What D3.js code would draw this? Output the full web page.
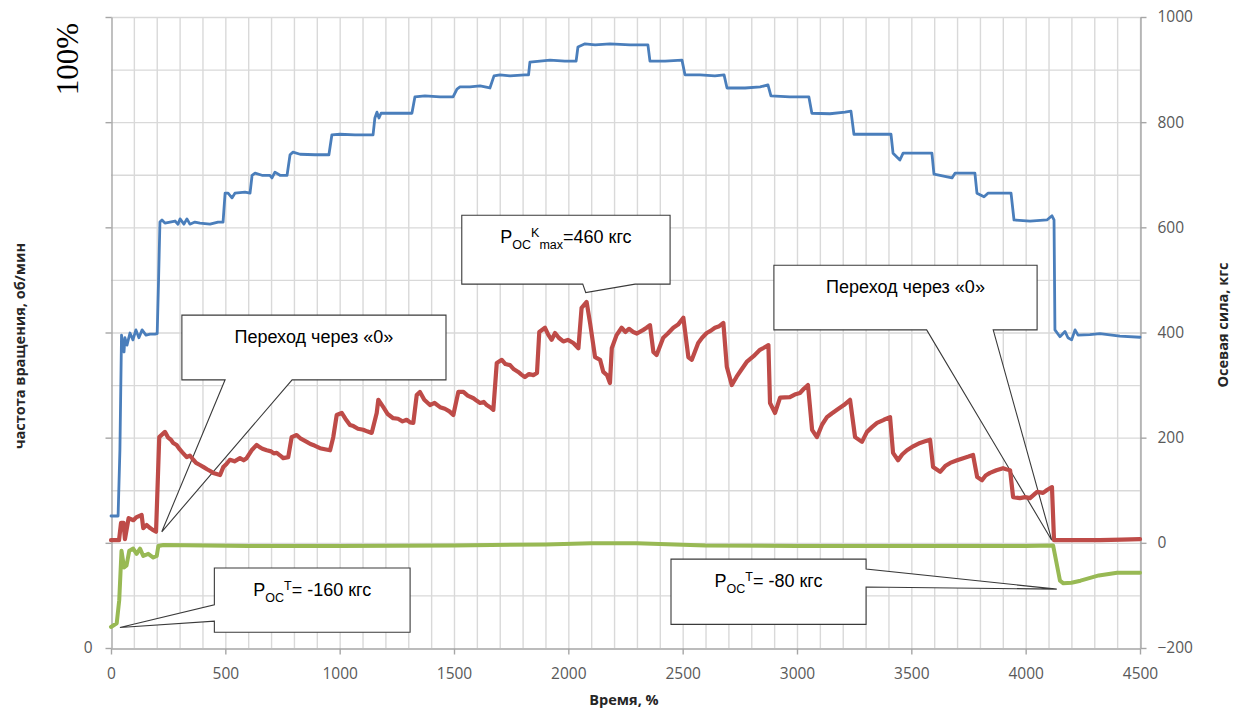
<!DOCTYPE html>
<html>
<head>
<meta charset="utf-8">
<script src="https://cdn.jsdelivr.net/npm/d3@7"></script>
<style>
   body { margin: 0; background: #fff; }
   svg { display: block; }
</style>
</head>
<body>
<div id="chart"></div>
<script>

// AXIS TICKS
var timeTicks = [0, 500, 1000, 1500, 2000, 2500, 3000, 3500, 4000, 4500];
var forceTicks = [-200, 0, 200, 400, 600, 800, 1000];
var speedTicks = [0, 200, 400, 600, 800, 1000, 1200];

// BLUE -- ЧАСТОТА ВРАЩЕНИЯ (LEFT AXIS)
var speedTime = [0, 31, 39, 46, 52, 57, 61, 70, 83, 96, 109, 122, 136, 153, 171, 192, 202, 208, 214, 223, 236, 258, 280, 293, 302, 319, 332, 345, 367, 389, 433, 468, 490, 499, 512, 529, 542, 586, 608, 617, 630, 660, 695, 704, 717, 739, 770, 783, 796, 827, 892, 953, 966, 1001, 1067, 1146, 1154, 1163, 1172, 1181, 1242, 1316, 1329, 1373, 1439, 1496, 1513, 1526, 1570, 1614, 1657, 1675, 1701, 1745, 1810, 1826, 1832, 1920, 1985, 2034, 2042, 2073, 2117, 2182, 2270, 2348, 2357, 2423, 2497, 2510, 2576, 2641, 2681, 2694, 2773, 2839, 2873, 2886, 2969, 3052, 3065, 3144, 3210, 3236, 3249, 3319, 3411, 3420, 3450, 3464, 3538, 3590, 3599, 3678, 3691, 3778, 3787, 3818, 3835, 3936, 3949, 4019, 4093, 4115, 4124, 4128, 4150, 4172, 4185, 4201, 4216, 4229, 4281, 4325, 4412, 4500];
var speedValue = [251, 251, 377, 595, 576, 563, 590, 576, 599, 586, 605, 590, 605, 595, 597, 597, 598, 700, 810, 814, 808, 810, 812, 806, 816, 806, 816, 806, 810, 808, 806, 810, 810, 865, 865, 856, 865, 867, 865, 899, 903, 899, 899, 894, 905, 899, 899, 938, 943, 939, 938, 938, 976, 977, 976, 976, 1008, 1019, 1008, 1017, 1017, 1017, 1048, 1050, 1048, 1048, 1063, 1067, 1067, 1069, 1065, 1088, 1090, 1088, 1090, 1090, 1114, 1118, 1116, 1116, 1143, 1149, 1147, 1149, 1147, 1147, 1116, 1116, 1118, 1090, 1090, 1088, 1090, 1065, 1065, 1067, 1071, 1050, 1048, 1048, 1017, 1016, 1019, 1021, 977, 977, 977, 941, 928, 941, 941, 941, 901, 894, 903, 903, 865, 858, 865, 865, 814, 812, 814, 822, 814, 605, 592, 602, 590, 586, 605, 595, 596, 598, 593, 591];

// RED -- ОСЕВАЯ СИЛА P_OC^K (RIGHT AXIS)
var forceKTime = [0, 35, 44, 55, 61, 77, 98, 112, 134, 141, 156, 171, 185, 197, 211, 236, 250, 262, 272, 287, 300, 312, 331, 345, 360, 372, 389, 405, 420, 432, 447, 462, 477, 491, 505, 520, 540, 564, 580, 593, 615, 637, 650, 662, 681, 700, 712, 725, 740, 753, 775, 790, 812, 830, 856, 872, 890, 914, 935, 958, 972, 987, 1009, 1025, 1045, 1060, 1080, 1103, 1120, 1140, 1162, 1169, 1191, 1210, 1234, 1255, 1275, 1293, 1308, 1322, 1337, 1351, 1370, 1395, 1415, 1439, 1460, 1480, 1497, 1519, 1541, 1560, 1585, 1600, 1614, 1630, 1643, 1658, 1672, 1687, 1709, 1725, 1745, 1762, 1781, 1795, 1810, 1828, 1847, 1863, 1873, 1898, 1912, 1927, 1942, 1958, 1978, 1998, 2022, 2044, 2058, 2080, 2095, 2117, 2139, 2153, 2169, 2182, 2190, 2211, 2233, 2250, 2265, 2284, 2300, 2328, 2342, 2357, 2372, 2386, 2415, 2435, 2459, 2480, 2503, 2525, 2540, 2568, 2585, 2605, 2622, 2641, 2660, 2678, 2693, 2715, 2736, 2758, 2780, 2810, 2838, 2855, 2875, 2882, 2904, 2926, 2969, 2990, 3013, 3030, 3048, 3066, 3087, 3110, 3131, 3152, 3175, 3205, 3232, 3254, 3284, 3306, 3328, 3350, 3380, 3407, 3420, 3442, 3460, 3481, 3510, 3538, 3560, 3582, 3595, 3626, 3648, 3670, 3700, 3727, 3750, 3770, 3788, 3809, 3825, 3844, 3872, 3901, 3915, 3932, 3945, 3975, 3998, 4019, 4050, 4076, 4095, 4115, 4124, 4250, 4325, 4420, 4500];
var forceKValue = [5, 5, 38, 38, 7, 47, 43, 49, 53, 28, 34, 28, 24, 21, 201, 211, 200, 196, 190, 186, 178, 172, 163, 166, 158, 152, 148, 144, 140, 137, 133, 131, 129, 144, 150, 158, 155, 161, 157, 161, 176, 186, 182, 179, 176, 174, 170, 171, 166, 161, 163, 201, 205, 198, 192, 188, 185, 180, 178, 176, 201, 243, 247, 236, 224, 222, 217, 215, 212, 209, 247, 272, 258, 245, 237, 236, 231, 234, 229, 228, 281, 287, 272, 262, 266, 258, 255, 250, 243, 287, 287, 280, 275, 270, 266, 268, 262, 258, 253, 342, 348, 340, 338, 330, 325, 320, 315, 321, 319, 323, 401, 409, 396, 386, 399, 390, 383, 386, 380, 370, 447, 458, 418, 353, 348, 325, 319, 304, 370, 395, 409, 401, 407, 401, 398, 405, 409, 414, 363, 357, 390, 398, 409, 415, 428, 353, 348, 380, 390, 399, 403, 409, 412, 418, 335, 300, 316, 330, 344, 355, 367, 371, 376, 266, 247, 276, 277, 282, 285, 293, 300, 215, 201, 225, 239, 246, 253, 262, 272, 201, 192, 211, 220, 228, 234, 239, 171, 157, 168, 176, 184, 190, 193, 196, 144, 135, 146, 152, 157, 161, 164, 167, 125, 119, 128, 133, 138, 142, 140, 138, 87, 85, 87, 85, 97, 95, 101, 106, 5, 5, 5, 6, 7];

// GREEN -- ОСЕВАЯ СИЛА P_OC^T (RIGHT AXIS)
var forceTTime = [0, 25, 36, 46, 57, 68, 80, 97, 112, 127, 141, 163, 185, 200, 207, 229, 600, 1000, 1500, 1900, 2100, 2300, 2600, 3000, 3500, 4000, 4120, 4150, 4165, 4200, 4240, 4320, 4400, 4500];
var forceTValue = [-160, -153, -109, -15, -47, -43, -15, -11, -21, -11, -25, -21, -28, -25, -6, -4, -6, -6, -5, -3, -1, -1, -5, -6, -6, -6, -5, -72, -77, -76, -72, -62, -57, -57];

// CANVAS SETTINGS
var settings = {
   width: 1243,
   height: 710,
   plot: { left: 111, right: 1140, top: 17, bottom: 648 },
   grid: '#d9d9d9',
   axis: '#a6a6a6',
   label: '#595959',
   colors: { speed: '#4a7ebb', forceK: '#be4b48', forceT: '#98b954' }
};

// SCALES
var xScale = d3.scaleLinear()
   .domain([0, 4500])
   .range([settings.plot.left, settings.plot.right]);

var yRight = d3.scaleLinear()
   .domain([-200, 1000])
   .range([settings.plot.bottom, settings.plot.top]);

var yLeft = d3.scaleLinear()
   .domain([0, 1200])
   .range([settings.plot.bottom, settings.plot.top]);

// CANVAS
var canvas = d3.select('#chart').append('svg')
   .attr('width', settings.width)
   .attr('height', settings.height);

// GRIDLINES
var grid = canvas.append('g').attr('class', 'grid');

grid.selectAll('line.v')
   .data(d3.range(100, 4501, 100))
      .enter().append('line')
         .attr('x1', d => xScale(d) + 0.5)
         .attr('x2', d => xScale(d) + 0.5)
         .attr('y1', settings.plot.top)
         .attr('y2', settings.plot.bottom)
         .attr('stroke', settings.grid)
         .attr('stroke-width', 1.4);

grid.selectAll('line.h')
   .data(d3.range(-100, 1001, 100))
      .enter().append('line')
         .attr('x1', settings.plot.left)
         .attr('x2', settings.plot.right)
         .attr('y1', d => yRight(d) + 0.5)
         .attr('y2', d => yRight(d) + 0.5)
         .attr('stroke', settings.grid)
         .attr('stroke-width', 1.4);

// AXES
function styleAxis(g) {
   g.select('.domain').attr('stroke', settings.axis).attr('stroke-width', 1.4);
   g.selectAll('.tick line').attr('stroke', settings.axis).attr('stroke-width', 1.4);
   g.selectAll('.tick text')
      .attr('fill', settings.label)
      .style('font-family', '"Open Sans", sans-serif')
      .style('font-size', '15.5px');
}

var plain = d3.format('d');

canvas.append('g')
   .attr('transform', 'translate(0,' + (settings.plot.bottom + 0.5) + ')')
   .call(d3.axisBottom(xScale).tickValues(timeTicks).tickSize(6).tickSizeOuter(0).tickPadding(13).tickFormat(plain))
   .call(styleAxis);

canvas.append('g')
   .attr('transform', 'translate(' + (settings.plot.left + 0.5) + ',0)')
   .call(d3.axisLeft(yLeft).tickValues(speedTicks).tickSize(6).tickSizeOuter(0).tickPadding(13)
      .tickFormat(d => d === 0 ? '0' : ''))
   .call(styleAxis);

canvas.append('g')
   .attr('transform', 'translate(' + (settings.plot.right + 0.5) + ',0)')
   .call(d3.axisRight(yRight).tickValues(forceTicks).tickSize(6).tickSizeOuter(0).tickPadding(11).tickFormat(plain))
   .call(styleAxis);

// AXIS TITLES
var titleFont = '"Open Sans", sans-serif';

canvas.append('text')
   .attr('transform', 'translate(25,' + 346 + ') rotate(-90)')
   .attr('text-anchor', 'middle')
   .style('font-family', titleFont).style('font-weight', 'bold').style('font-size', '14.5px')
   .attr('fill', '#262626')
   .text('частота вращения, об/мин');

canvas.append('text')
   .attr('transform', 'translate(1228,' + 325 + ') rotate(-90)')
   .attr('text-anchor', 'middle')
   .style('font-family', titleFont).style('font-weight', 'bold').style('font-size', '14.5px')
   .attr('fill', '#262626')
   .text('Осевая сила, кгс');

canvas.append('text')
   .attr('x', 624).attr('y', 705)
   .attr('text-anchor', 'middle')
   .style('font-family', titleFont).style('font-weight', 'bold').style('font-size', '14.5px')
   .attr('fill', '#262626')
   .text('Время, %');

// 100% MARK
canvas.append('text')
   .attr('transform', 'translate(78,59) rotate(-90)')
   .attr('text-anchor', 'middle')
   .style('font-family', '"Liberation Serif", serif')
   .style('font-size', '31px')
   .attr('fill', '#000')
   .text('100%');

// CALLOUTS -- BOX [t0, t1, top, bottom] AND TIP IN DATA UNITS OF THE RIGHT AXIS
var callouts = [
   { parts: [['Переход через «0»', 0]], box: [310, 1465, 433, 310], side: 'bottom', base: [499, 792], tip: [222, 21] },
   { parts: [['P', 0], ['OC', 1], ['K', -1], ['max', 1], ['=460 кгс', 0]], box: [1534, 2445, 623, 492], side: 'bottom', base: [2063, 2292], tip: [2076, 476] },
   { parts: [['Переход через «0»', 0]], box: [2899, 4050, 528, 405], side: 'bottom', base: [3567, 3858], tip: [4114, 5] },
   { parts: [['P', 0], ['OC', 1], ['T', -1], ['= -160 кгс', 0]], box: [452, 1308, -48, -170], side: 'left', base: [-118, -149], tip: [39, -161] },
   { parts: [['P', 0], ['OC', 1], ['T', -1], ['= -80 кгс', 0]], box: [2449, 3302, -31, -155], side: 'right', base: [-50, -84], tip: [4136, -88] }
];

// BUILD CALLOUT OUTLINE
function calloutPath(c) {
   var x0 = xScale(c.box[0]), x1 = xScale(c.box[1]);
   var y0 = yRight(c.box[2]), y1 = yRight(c.box[3]);
   var tx = xScale(c.tip[0]), ty = yRight(c.tip[1]);
   var p = d3.path();
   p.moveTo(x0, y0);
   p.lineTo(x1, y0);
   if (c.side === 'right') {
      p.lineTo(x1, yRight(c.base[0]));
      p.lineTo(tx, ty);
      p.lineTo(x1, yRight(c.base[1]));
   }
   p.lineTo(x1, y1);
   if (c.side === 'bottom') {
      p.lineTo(xScale(c.base[1]), y1);
      p.lineTo(tx, ty);
      p.lineTo(xScale(c.base[0]), y1);
   }
   p.lineTo(x0, y1);
   if (c.side === 'left') {
      p.lineTo(x0, yRight(c.base[1]));
      p.lineTo(tx, ty);
      p.lineTo(x0, yRight(c.base[0]));
   }
   p.closePath();
   return p.toString();
}

var notes = canvas.append('g').attr('class', 'callouts');

callouts.forEach(c => {

   notes.append('path')
      .attr('d', calloutPath(c))
      .attr('fill', '#fff')
      .attr('stroke', '#3a3a3a')
      .attr('stroke-width', 1.1)
      .attr('stroke-linejoin', 'miter');

   var label = notes.append('text')
      .attr('x', (xScale(c.box[0]) + xScale(c.box[1])) / 2)
      .attr('y', yRight(c.box[2]) + 28)
      .attr('text-anchor', 'middle')
      .style('font-family', '"Liberation Sans", Arial, sans-serif')
      .style('font-size', '18px')
      .attr('fill', '#000');

   // SUB / SUPERSCRIPT PARTS
   var level = 0;
   c.parts.forEach(part => {
      var shift = part[1] * 6 - level;
      level = part[1] * 6;
      label.append('tspan')
         .attr('dy', shift)
         .style('font-size', part[1] === 0 ? '18px' : '12.5px')
         .text(part[0]);
   });
});

// SERIES LINES
function drawSeries(times, values, scale, color, width) {
   var line = d3.line()
      .x((d, i) => xScale(times[i]))
      .y(d => scale(d));

   canvas.append('path')
      .datum(values)
      .attr('d', line)
      .attr('fill', 'none')
      .attr('stroke', color)
      .attr('stroke-width', width)
      .attr('stroke-linejoin', 'round')
      .attr('stroke-linecap', 'round');
}

drawSeries(speedTime, speedValue, yLeft, settings.colors.speed, 2.8);
drawSeries(forceKTime, forceKValue, yRight, settings.colors.forceK, 4.2);
drawSeries(forceTTime, forceTValue, yRight, settings.colors.forceT, 4);

</script>
</body>
</html>
